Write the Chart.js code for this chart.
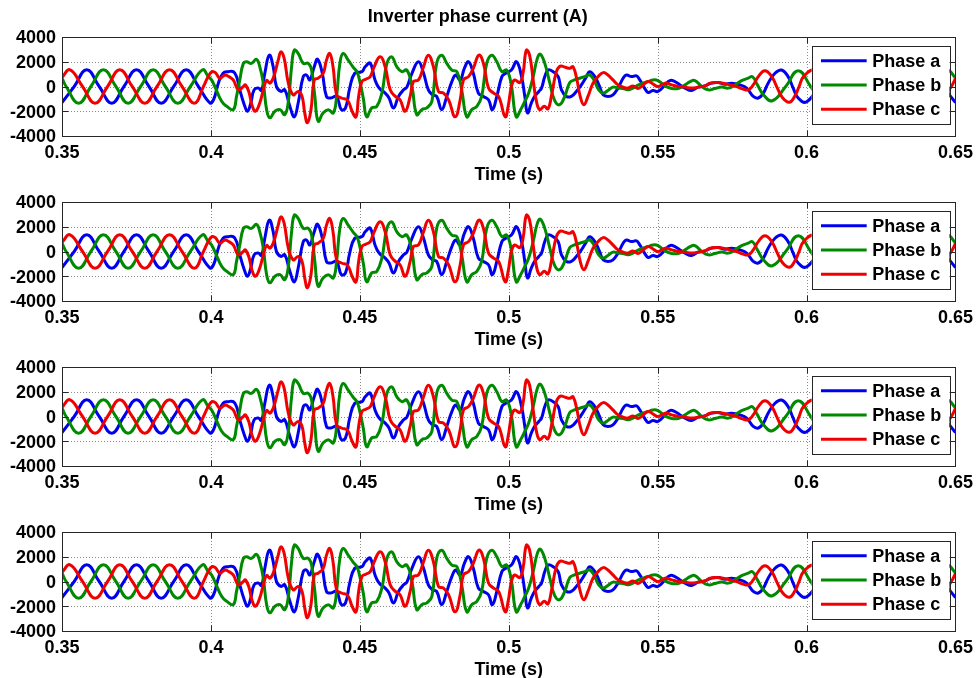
<!DOCTYPE html>
<html><head><meta charset="utf-8">
<script src="https://cdn.jsdelivr.net/npm/chart.js@4.4.0/dist/chart.umd.min.js"></script>
<style>
html,body{margin:0;padding:0;background:#fff;width:979px;height:678px;overflow:hidden;position:relative;}
.p{position:absolute;left:0;width:979px;height:190px;}
</style></head><body>
<div class="p" style="top:0px"><canvas id="c0" width="979" height="190"></canvas></div>
<div class="p" style="top:165px"><canvas id="c1" width="979" height="190"></canvas></div>
<div class="p" style="top:330px"><canvas id="c2" width="979" height="190"></canvas></div>
<div class="p" style="top:495px"><canvas id="c3" width="979" height="190"></canvas></div>
<script>
const chartTitle = 'Inverter phase current (A)';
const xTitle = 'Time (s)';
const xTicks = [0.35, 0.4, 0.45, 0.5, 0.55, 0.6, 0.65];
const yTicks = [-4000, -2000, 0, 2000, 4000];
const seriesNames = ['Phase a', 'Phase b', 'Phase c'];
const seriesColors = ['#0000f0', '#008a00', '#f00000'];

// Phase a (blue): time (s) and current (A) at turning points
const aT = [0.3500,0.3541,0.3583,0.3625,0.3667,0.3708,0.3750,0.3792,0.3833,0.3875,0.3917,0.3958,0.3997,
0.4010,0.4025,0.4041,0.4058,0.4075,0.4086,0.4097,0.4112,0.4123,0.4134,0.4145,0.4159,0.4170,0.4181,0.4196,0.4209,
0.4220,0.4235,0.4248,0.4265,0.4280,0.4293,0.4310,0.4321,0.4332,0.4347,0.4358,0.4374,0.4388,0.4403,0.4422,0.4438,
0.4452,0.4466,0.4483,0.4507,0.4518,0.4535,0.4551,0.4565,0.4585,0.4598,0.4613,0.4630,0.4647,0.4658,0.4675,0.4697,
0.4714,0.4730,0.4744,0.4758,0.4775,0.4792,0.4809,0.4822,0.4837,0.4851,0.4865,0.4881,0.4898,0.4915,0.4932,0.4945,
0.4960,0.4977,0.4990,0.5009,0.5026,0.5043,0.5054,0.5063,0.5076,0.5087,0.5101,0.5110,0.5121,0.5132,0.5149,0.5166,
0.5177,0.5194,0.5210,0.5227,0.5244,0.5261,0.5272,0.5289,0.5305,0.5317,0.5333,0.5350,0.5367,0.5384,0.5395,0.5412,
0.5429,0.5440,0.5456,0.5468,0.5484,0.5501,0.5525,0.5541,0.5558,0.5575,0.5592,0.5614,0.5636,0.5659,0.5681,0.5704,
0.5726,0.5748,0.5776,0.5799,0.5821,0.5838,0.5855,0.5871,0.5894,0.5916,0.5938,0.5955,0.5972,0.5999,
0.6042,0.6083,0.6125,0.6167,0.6208,0.6250,0.6292,0.6333,0.6375,0.6417,0.6458,0.6500];
const aV = [-1300,0,1350,0,-1350,0,1350,0,-1350,0,1350,0,-1330,
-1000,270,1070,1200,1200,800,-270,-1470,-2000,-1330,-270,-130,-320,1070,2530,1600,
0,-400,-270,-1600,-2450,-1330,800,930,530,1600,2200,1070,-800,-930,-800,-1870,
-1730,-130,1070,1200,1600,1870,530,-130,-530,-930,-1730,-800,-270,-50,1070,2000,
1070,-270,-670,-800,-1870,-800,400,930,530,1470,2000,1070,-530,-800,-1070,-1870,
-800,800,1070,1330,2000,800,-800,-2130,-1330,-800,-400,-130,800,1330,1200,800,
-270,-800,-800,-400,130,800,1200,800,0,-670,-800,-670,-130,670,930,800,
850,530,-130,-480,-320,-400,130,480,400,130,-130,-320,-50,50,270,320,
190,270,130,-130,-800,-930,-530,270,1070,1330,800,-130,-930,-1250,
0,1300,0,-1300,0,1300,0,-1300,0,1300,0,-1300];

// Phase b (green)
const bT = [0.3500,0.3514,0.3556,0.3597,0.3639,0.3681,0.3722,0.3764,0.3806,0.3847,0.3889,0.3931,0.3972,
0.3991,0.4002,0.4013,0.4036,0.4053,0.4075,0.4086,0.4097,0.4109,0.4120,0.4136,0.4153,0.4164,0.4176,0.4187,0.4198,
0.4215,0.4232,0.4248,0.4260,0.4271,0.4280,0.4293,0.4310,0.4327,0.4338,0.4349,0.4360,0.4377,0.4394,0.4411,0.4422,
0.4433,0.4444,0.4461,0.4478,0.4490,0.4500,0.4512,0.4523,0.4540,0.4557,0.4574,0.4591,0.4607,0.4624,0.4641,0.4658,
0.4675,0.4691,0.4708,0.4725,0.4742,0.4758,0.4775,0.4792,0.4809,0.4826,0.4842,0.4859,0.4876,0.4893,0.4909,0.4926,
0.4943,0.4960,0.4977,0.4993,0.5008,0.5025,0.5040,0.5054,0.5067,0.5082,0.5096,0.5106,0.5121,0.5138,0.5154,0.5171,
0.5188,0.5205,0.5221,0.5238,0.5255,0.5272,0.5286,0.5302,0.5317,0.5333,0.5350,0.5367,0.5384,0.5400,0.5417,0.5434,
0.5451,0.5468,0.5484,0.5501,0.5525,0.5547,0.5569,0.5592,0.5609,0.5625,0.5648,0.5670,0.5692,0.5715,0.5737,0.5760,
0.5782,0.5804,0.5818,0.5835,0.5855,0.5885,0.5930,0.5972,0.6014,0.6055,0.6097,0.6139,0.6181,0.6222,0.6264,0.6306,
0.6347,0.6389,0.6431,0.6472,0.6500];
const bV = [675,0,-1350,0,1350,0,-1350,0,1350,0,-1350,0,1350,
800,530,0,-1200,-1600,-1870,-800,530,1870,2000,1870,2190,1600,270,-1870,-2530,
-2000,-1870,-2270,-1200,1600,2930,2670,1870,1870,1330,-800,-2800,-2130,-1870,-2130,-800,
1870,2670,2130,1550,1200,400,-1000,-2450,-1730,-1600,-530,1870,2400,1600,1200,1330,
0,-2270,-1870,-1730,-1200,1870,2530,1870,1330,1200,-270,-2450,-1870,-1600,-800,1870,
2530,2000,1200,1330,200,-2450,-1870,-1200,-530,800,2270,2610,1870,270,-1120,-1470,
-800,320,530,670,800,930,530,-270,-530,-320,-50,-130,-160,-270,-130,110,
270,400,530,480,50,-160,-160,130,400,480,0,-270,-160,-50,-130,130,
480,670,800,130,-670,-1150,0,1280,0,-1300,0,1300,0,-1300,0,1300,
0,-1300,0,1300,700];

// Phase c (red)
const cT = [0.3500,0.3527,0.3569,0.3611,0.3653,0.3694,0.3736,0.3778,0.3819,0.3861,0.3903,0.3944,0.3975,
0.3991,0.4004,0.4015,0.4030,0.4047,0.4060,0.4075,0.4092,0.4109,0.4116,0.4128,0.4139,0.4150,0.4164,0.4176,0.4187,
0.4198,0.4211,0.4226,0.4235,0.4246,0.4260,0.4276,0.4293,0.4306,0.4315,0.4324,0.4336,0.4347,0.4360,0.4377,0.4388,
0.4399,0.4410,0.4422,0.4438,0.4459,0.4474,0.4487,0.4496,0.4507,0.4520,0.4535,0.4546,0.4568,0.4585,0.4602,0.4619,
0.4635,0.4652,0.4669,0.4680,0.4697,0.4714,0.4730,0.4747,0.4764,0.4781,0.4798,0.4820,0.4837,0.4848,0.4865,0.4881,
0.4900,0.4915,0.4932,0.4949,0.4966,0.4988,0.4998,0.5009,0.5020,0.5037,0.5048,0.5059,0.5070,0.5082,0.5093,0.5104,
0.5119,0.5132,0.5143,0.5160,0.5173,0.5190,0.5205,0.5216,0.5229,0.5240,0.5252,0.5266,0.5283,0.5300,0.5317,0.5333,
0.5350,0.5367,0.5384,0.5400,0.5417,0.5434,0.5451,0.5468,0.5484,0.5501,0.5525,0.5547,0.5569,0.5592,0.5614,0.5636,
0.5659,0.5676,0.5698,0.5720,0.5743,0.5765,0.5787,0.5804,0.5821,0.5838,0.5860,0.5883,0.5902,0.5920,0.5942,0.5960,
0.5975,0.5990,0.6027,0.6069,0.6110,0.6152,0.6194,0.6235,0.6277,0.6319,0.6361,0.6402,0.6444,0.6486,0.6500];
const cV = [750,1350,0,-1350,0,1350,0,-1350,0,1350,0,-1350,0,
800,1200,1120,670,930,800,530,-270,0,130,-480,-1600,-2000,-1330,-270,480,
270,800,2130,2800,2270,270,-670,-400,-800,-2130,-2930,-1870,530,670,1070,2130,
2670,1600,-670,-930,-1120,-2000,-2450,-800,400,590,800,1470,2400,1600,-270,-800,
-1070,-2000,-800,400,530,1600,2530,1600,-400,-530,-1070,-2450,-1070,530,800,1470,
2530,1870,-130,-530,-800,-2450,-1600,0,530,320,1070,2930,2530,530,-1200,-1870,
-1600,-1810,-800,1200,1650,1550,1470,1600,530,-800,-1470,-800,270,800,1120,930,
530,130,-50,-130,50,-160,130,400,210,0,270,130,0,-50,-130,-50,
50,270,320,270,130,0,-210,-270,130,800,1280,800,-130,-930,-1280,-800,
0,800,1300,0,-1300,0,1300,0,-1300,0,1300,0,-1300,0,650];

const panelSeries = [
  [[aT, aV], [bT, bV], [cT, cV]],
  [[aT, aV], [bT, bV], [cT, cV]],
  [[aT, aV], [bT, bV], [cT, cV]],
  [[aT, aV], [bT, bV], [cT, cV]]
];

const FONT = {family: '"Liberation Sans", Arial, Helvetica, sans-serif', size: 18, weight: 'bold'};

const matlabAxes = {
  id: 'matlabAxes',
  beforeDatasetsDraw(chart) {
    const {ctx, chartArea: a, scales: {x, y}} = chart;
    ctx.save();
    ctx.strokeStyle = '#8a8a8a';
    ctx.lineWidth = 1;
    ctx.setLineDash([1, 2]);
    ctx.beginPath();
    xTicks.forEach(v => {
      if (v > x.min && v < x.max) {
        const px = Math.round(x.getPixelForValue(v)) + 0.5;
        ctx.moveTo(px, a.top); ctx.lineTo(px, a.bottom);
      }
    });
    yTicks.forEach(v => {
      if (v > y.min && v < y.max) {
        const py = Math.round(y.getPixelForValue(v)) + 0.5;
        ctx.moveTo(a.left, py); ctx.lineTo(a.right, py);
      }
    });
    ctx.stroke();
    ctx.restore();
  },
  afterDatasetsDraw(chart) {
    const {ctx, chartArea: a, scales: {x, y}} = chart;
    ctx.save();
    ctx.strokeStyle = '#262626';
    ctx.lineWidth = 1;
    ctx.setLineDash([]);
    const L = Math.round(a.left) + 0.5, R = Math.round(a.right) + 0.5;
    const T = Math.round(a.top) + 0.5, B = Math.round(a.bottom) + 0.5;
    ctx.strokeRect(L, T, R - L, B - T);
    const tl = 6;
    ctx.beginPath();
    xTicks.forEach(v => {
      const px = Math.round(x.getPixelForValue(v)) + 0.5;
      ctx.moveTo(px, B); ctx.lineTo(px, B - tl);
      ctx.moveTo(px, T); ctx.lineTo(px, T + tl);
    });
    yTicks.forEach(v => {
      const py = Math.round(y.getPixelForValue(v)) + 0.5;
      ctx.moveTo(L, py); ctx.lineTo(L + tl, py);
      ctx.moveTo(R, py); ctx.lineTo(R - tl, py);
    });
    ctx.stroke();
    // legend box inside the axes (upper right)
    const lw = 137.6, lh = 78.3;
    const lx = a.right - 143.8, ly = a.top + 8.7;
    ctx.fillStyle = '#ffffff';
    ctx.fillRect(lx, ly, lw, lh);
    ctx.strokeStyle = '#262626';
    ctx.strokeRect(Math.round(lx) + 0.5, Math.round(ly) + 0.5, Math.round(lw), Math.round(lh));
    ctx.font = 'bold 18px "Liberation Sans", Arial, sans-serif';
    ctx.textBaseline = 'middle';
    ctx.textAlign = 'left';
    chart.data.datasets.forEach((ds, i) => {
      const cy = ly + 15 + i * 24.3;
      ctx.strokeStyle = ds.borderColor;
      ctx.lineWidth = 3;
      ctx.beginPath();
      ctx.moveTo(lx + 9.3, cy); ctx.lineTo(lx + 55, cy);
      ctx.stroke();
      ctx.fillStyle = '#000';
      ctx.fillText(ds.label, lx + 60.6, cy + 1);
    });
    ctx.restore();
  }
};

panelSeries.forEach((series, k) => {
  const datasets = series.map(([T, V], i) => ({
    label: seriesNames[i],
    data: T.map((t, j) => ({x: t, y: V[j]})),
    borderColor: seriesColors[i],
    backgroundColor: seriesColors[i],
    borderWidth: 3,
    pointRadius: 0,
    tension: 0.45,
    fill: false,
    clip: 0,
    order: 2 - i
  }));
  new Chart(document.getElementById('c' + k), {
    type: 'line',
    data: {datasets},
    plugins: [matlabAxes],
    options: {
      responsive: false,
      animation: false,
      devicePixelRatio: 1,
      layout: {padding: {left: 0, right: 23.5, top: k === 0 ? 0 : 37, bottom: 0}},
      plugins: {
        legend: {display: false},
        tooltip: {enabled: false},
        title: {
          display: k === 0,
          text: chartTitle,
          color: '#000',
          font: FONT,
          padding: {top: 6.5, bottom: 8.9}
        }
      },
      scales: {
        x: {
          type: 'linear',
          min: 0.35, max: 0.65,
          afterBuildTicks: s => { s.ticks = xTicks.map(v => ({value: v})); },
          afterFit: s => { s.height = 54; },
          ticks: {color: '#000', font: FONT, padding: 6, maxRotation: 0, autoSkip: false,
                  callback: v => String(v)},
          grid: {display: false, drawTicks: false},
          border: {display: false},
          title: {display: true, text: xTitle, color: '#000', font: FONT, padding: {top: 0, bottom: 4}}
        },
        y: {
          type: 'linear',
          min: -4000, max: 4000,
          afterBuildTicks: s => { s.ticks = yTicks.map(v => ({value: v})); },
          afterFit: s => { s.width = 62; },
          ticks: {color: '#000', font: FONT, padding: 6, labelOffset: 1.5, callback: v => String(v)},
          grid: {display: false, drawTicks: false},
          border: {display: false}
        }
      }
    }
  });
});
</script>
</body></html>
